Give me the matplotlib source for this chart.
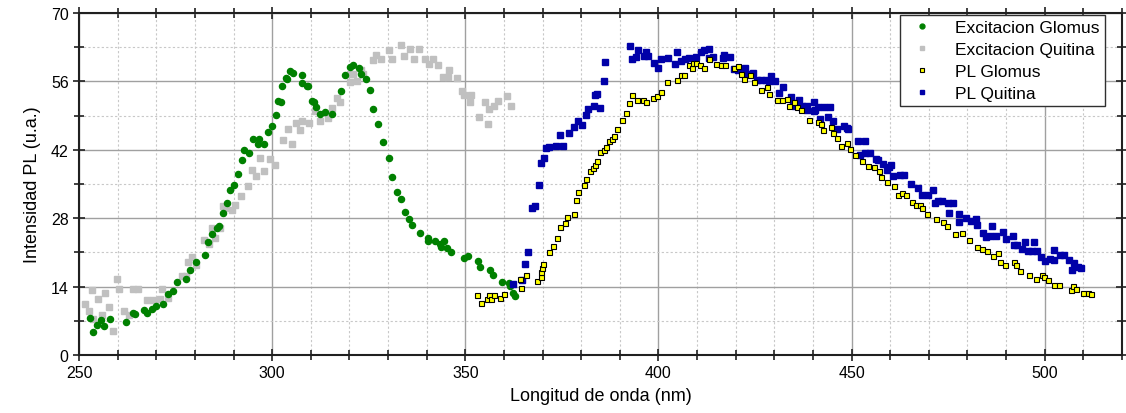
import numpy as np
import matplotlib.pyplot as plt
from matplotlib.ticker import MultipleLocator

plt.rcParams['font.family'] = ['Liberation Sans', 'DejaVu Sans']

# Excitacion Glomus
exc_glomus_x = [252.8, 253.7, 254.7, 255.8, 256.4, 258.0, 262.2, 264.0, 264.6, 266.8,
                267.5, 268.8, 269.8, 271.7, 273.0, 274.3, 275.3, 277.6, 278.6, 280.2,
                282.5, 283.4, 284.5, 285.6, 286.2, 287.2, 288.2, 289.1, 290.1, 291.1,
                292.1, 292.8, 294.1, 295.1, 296.4, 296.6, 297.9, 299.0, 299.9, 301.0,
                301.6, 302.3, 302.6, 303.5, 303.9, 304.5, 305.5, 307.8, 307.8, 309.0,
                309.4, 310.3, 310.7, 311.4, 312.3, 313.6, 315.6, 317.8, 318.9, 320.1,
                320.8, 322.5, 323.0, 324.2, 325.4, 326.0, 327.3, 328.6, 330.3, 331.1,
                332.2, 333.4, 334.4, 335.4, 336.3, 338.3, 340.4, 340.4, 342.2, 343.4,
                343.7, 344.5, 345.3, 346.4, 349.6, 350.7, 353.2, 353.9, 356.5, 357.1,
                359.4, 361.3, 361.7, 362.4, 362.8]
exc_glomus_y = [7.5, 4.8, 6.2, 7.2, 5.9, 7.4, 6.8, 8.6, 8.4, 9.3,
                8.6, 9.4, 10.0, 10.5, 12.5, 13.2, 15.0, 15.6, 17.5, 19.1,
                20.5, 23.2, 24.7, 26.1, 26.5, 29.1, 31.1, 33.8, 34.9, 37.0,
                40.0, 42.0, 41.3, 44.3, 43.2, 44.3, 43.2, 45.6, 46.8, 49.2,
                51.9, 51.7, 55.1, 56.8, 56.6, 58.2, 57.8, 57.4, 55.6, 55.1,
                55.1, 52.0, 51.7, 50.7, 49.4, 49.7, 49.4, 54.0, 57.3, 58.9,
                59.3, 58.7, 57.6, 56.5, 54.3, 50.3, 47.3, 43.6, 40.3, 36.5,
                33.4, 31.9, 29.3, 27.8, 26.6, 24.9, 23.9, 23.3, 23.3, 22.8,
                22.2, 23.3, 22.0, 21.0, 19.9, 20.3, 19.3, 18.1, 17.5, 16.3,
                14.9, 14.7, 14.2, 12.8, 12.1]

# Excitacion Quitina
exc_quitina_x = [251.6, 252.7, 253.3, 253.7, 255.0, 256.0, 256.6, 257.7, 258.9, 259.7,
                 260.3, 261.7, 262.9, 264.0, 265.3, 267.7, 269.2, 270.9, 271.6, 273.0,
                 276.7, 277.6, 278.3, 279.3, 280.3, 282.4, 283.6, 284.3, 285.3, 286.5,
                 287.3, 287.9, 289.7, 290.4, 291.8, 293.7, 294.7, 295.8, 296.8, 297.8,
                 299.5, 300.8, 302.8, 304.1, 305.1, 306.2, 307.2, 307.8, 309.6, 311.1,
                 312.5, 314.5, 315.5, 316.9, 317.5, 320.1, 320.1, 321.0, 321.9, 323.0,
                 323.6, 326.0, 326.9, 328.3, 330.3, 330.9, 333.3, 334.2, 335.6, 336.6,
                 337.9, 339.6, 340.5, 341.6, 342.9, 344.2, 345.4, 345.9, 347.8, 349.1,
                 349.6, 351.3, 351.5, 353.5, 355.2, 355.9, 356.2, 357.5, 358.5, 360.9,
                 361.8]
exc_quitina_y = [10.5, 9.1, 13.4, 7.3, 11.5, 8.1, 12.7, 9.9, 5.0, 15.6,
                 13.5, 9.0, 8.2, 13.5, 13.5, 11.3, 11.3, 11.5, 13.5, 11.6,
                 16.2, 16.2, 19.0, 20.1, 18.5, 23.6, 22.8, 26.0, 23.9, 26.1,
                 30.6, 30.2, 29.7, 30.7, 32.6, 34.7, 37.8, 36.6, 40.4, 37.6,
                 40.1, 39.0, 44.0, 46.3, 43.2, 47.6, 46.1, 48.0, 47.4, 49.9,
                 47.9, 48.5, 50.6, 52.7, 51.7, 57.6, 55.8, 57.5, 56.0, 58.4,
                 57.6, 60.4, 61.5, 60.5, 62.5, 60.5, 63.4, 61.3, 62.6, 60.7,
                 62.6, 60.5, 59.5, 60.5, 59.3, 57.0, 56.9, 58.3, 56.8, 54.0,
                 53.3, 51.8, 53.3, 48.8, 51.7, 47.2, 50.3, 51.0, 51.9, 53.1,
                 51.0]

# PL Glomus
pl_glomus_x = [352.9, 354.1, 355.5, 356.1, 356.7, 357.4, 359.1, 360.0, 364.1, 364.3,
               365.6, 368.5, 369.5, 369.6, 369.8, 370.2, 371.7, 372.8, 373.7, 374.4,
               375.7, 376.4, 378.1, 378.6, 379.3, 380.7, 381.3, 382.3, 383.0, 383.6,
               384.2, 384.8, 385.9, 386.5, 387.2, 387.9, 388.5, 389.2, 390.5, 391.6,
               392.5, 393.1, 394.5, 396.0, 396.7, 398.7, 399.5, 400.6, 402.3, 404.9,
               405.9, 406.6, 407.8, 408.6, 408.9, 409.8, 410.7, 411.8, 413.0, 415.0,
               416.3, 417.2, 419.6, 420.5, 421.5, 422.2, 423.6, 424.8, 426.5, 428.0,
               428.7, 430.6, 432.0, 433.4, 433.7, 435.2, 435.9, 436.9, 439.1, 441.2,
               442.2, 442.7, 444.6, 445.2, 446.2, 447.2, 448.8, 449.5, 450.8, 452.7,
               454.3, 455.7, 457.2, 457.5, 459.2, 461.1, 462.1, 463.1, 464.0, 465.6,
               466.6, 467.8, 468.2, 469.6, 471.9, 473.8, 474.8, 476.7, 478.7, 480.3,
               482.6, 483.7, 485.0, 486.6, 487.8, 488.3, 489.8, 492.0, 492.6, 493.6,
               495.9, 497.8, 499.2, 499.8, 500.8, 502.4, 503.7, 506.7, 507.2, 508.2,
               510.0, 511.1, 511.9]
pl_glomus_y = [12.2, 10.7, 11.5, 12.2, 11.5, 12.2, 11.6, 12.5, 15.5, 13.7,
               16.3, 15.1, 16.0, 17.0, 17.8, 18.6, 21.0, 22.4, 24.0, 26.3,
               27.1, 28.2, 28.8, 31.7, 33.3, 34.8, 36.1, 37.7, 38.3, 38.8,
               39.7, 41.5, 42.0, 42.6, 43.9, 44.3, 44.9, 46.3, 48.2, 49.5,
               51.6, 53.2, 52.3, 52.3, 51.8, 52.7, 53.1, 53.8, 55.8, 56.3,
               57.4, 57.3, 59.4, 58.8, 59.7, 59.7, 59.4, 58.7, 60.6, 59.5,
               59.4, 59.4, 58.7, 59.1, 57.6, 56.6, 57.3, 55.8, 54.2, 54.9,
               53.5, 52.2, 52.2, 52.5, 51.0, 51.8, 50.7, 50.1, 48.1, 47.8,
               47.2, 46.1, 46.6, 45.4, 44.4, 42.7, 43.4, 42.1, 40.9, 39.8,
               38.7, 38.5, 37.6, 36.4, 35.4, 34.7, 32.7, 33.2, 32.7, 31.3,
               30.8, 30.8, 30.0, 28.8, 27.8, 27.2, 26.5, 24.8, 25.0, 23.5,
               22.2, 21.8, 21.3, 20.2, 20.9, 19.0, 18.5, 19.0, 18.5, 17.2,
               16.4, 15.6, 16.4, 15.9, 15.3, 14.3, 14.3, 13.4, 14.2, 13.6,
               12.7, 12.7, 12.5]

# PL Quitina
pl_quitina_x = [362.3, 364.6, 365.4, 366.3, 367.3, 368.0, 369.2, 369.5, 370.4, 370.9,
                371.6, 373.5, 374.5, 375.2, 376.8, 378.2, 379.1, 380.2, 381.2, 381.8,
                383.2, 383.6, 384.0, 384.8, 385.9, 386.1, 392.6, 393.2, 394.2, 394.6,
                396.2, 396.8, 397.4, 398.9, 399.9, 400.6, 402.5, 404.2, 404.9, 405.9,
                406.8, 407.9, 409.6, 411.0, 411.7, 413.1, 413.2, 414.1, 416.6, 417.0,
                418.6, 419.6, 420.5, 422.5, 423.3, 424.5, 425.5, 426.5, 427.8, 428.5,
                429.2, 430.2, 431.1, 432.2, 434.2, 434.8, 435.4, 436.5, 437.2, 438.4,
                438.5, 440.2, 440.2, 440.6, 441.2, 441.7, 442.8, 443.9, 444.4, 445.2,
                446.1, 448.0, 448.7, 449.2, 451.7, 452.2, 453.4, 453.6, 454.8, 456.4,
                456.8, 458.1, 459.2, 459.6, 460.2, 460.7, 462.6, 463.7, 465.5, 467.1,
                468.3, 469.9, 471.0, 471.7, 472.3, 473.5, 475.0, 475.3, 476.3, 477.7,
                477.9, 479.7, 480.9, 482.3, 482.6, 483.9, 484.7, 485.8, 486.4, 487.4,
                489.3, 490.0, 491.7, 492.0, 492.8, 494.0, 494.8, 495.7, 496.6, 497.2,
                498.0, 499.0, 500.0, 501.3, 502.3, 502.3, 503.9, 505.0, 506.2, 507.1,
                507.5, 508.5, 509.3]
pl_quitina_y = [14.5, 15.4, 18.6, 21.1, 30.1, 30.5, 34.8, 39.4, 40.4, 42.4,
                42.6, 42.7, 45.1, 42.8, 45.4, 46.7, 47.9, 47.1, 49.2, 50.3,
                50.9, 53.3, 53.4, 50.6, 56.1, 60.0, 63.2, 60.7, 61.1, 62.5,
                61.2, 62.1, 61.2, 59.7, 58.7, 60.7, 60.9, 59.6, 62.1, 60.1,
                60.7, 60.8, 61.1, 62.1, 62.5, 60.8, 62.6, 61.1, 60.9, 61.5,
                61.1, 58.5, 58.4, 58.7, 57.5, 57.8, 56.2, 56.4, 56.3, 56.0,
                57.2, 56.0, 53.6, 54.9, 52.8, 51.5, 51.0, 52.3, 51.0, 51.0,
                50.1, 51.7, 49.9, 50.1, 50.8, 48.3, 50.8, 48.7, 50.8, 47.9,
                46.2, 46.9, 46.5, 46.3, 43.9, 41.0, 43.9, 41.3, 41.3, 40.2,
                39.9, 39.1, 37.9, 38.4, 38.9, 36.6, 36.8, 36.8, 35.0, 34.1,
                32.7, 32.7, 33.8, 31.1, 31.6, 31.6, 31.2, 29.1, 31.2, 28.9,
                27.3, 28.0, 27.4, 27.8, 26.7, 25.0, 24.1, 24.3, 26.5, 24.3,
                25.1, 23.7, 24.4, 22.5, 22.6, 21.7, 23.1, 21.3, 21.3, 23.2,
                21.3, 20.1, 19.2, 19.6, 19.4, 21.5, 20.5, 20.5, 19.5, 17.5,
                18.8, 18.0, 17.8]

fig = plt.figure(figsize=(11.26, 4.14), dpi=100)
ax = fig.add_axes([0.0702, 0.14, 0.9262, 0.826])

ax.plot(exc_glomus_x, exc_glomus_y, 'o', color='#008000', ms=4.4, mec='#008000',
        label='Excitacion Glomus', zorder=4)
ax.plot(exc_quitina_x, exc_quitina_y, 's', color='#c0c0c0', ms=3.8, mec='#c0c0c0',
        label='Excitacion Quitina', zorder=3)
ax.plot(pl_glomus_x, pl_glomus_y, 's', color='#ffff00', ms=3.6, mec='black', mew=0.8,
        label='PL Glomus', zorder=5)
ax.plot(pl_quitina_x, pl_quitina_y, 's', color='#0000a8', ms=3.9, mec='#0000a8',
        label='PL Quitina', zorder=4)

ax.set_xlim(250, 520)
ax.set_ylim(0, 70)
ax.xaxis.set_major_locator(MultipleLocator(50))
ax.xaxis.set_minor_locator(MultipleLocator(10))
ax.yaxis.set_major_locator(MultipleLocator(14))
ax.yaxis.set_minor_locator(MultipleLocator(7))

ax.grid(which='major', color='#a0a0a0', lw=1.0, ls='-')
ax.grid(which='minor', color='#c8c8c8', lw=0.8, ls=(0, (2, 2)))
ax.set_axisbelow(True)

for s in ax.spines.values():
    s.set_linewidth(1.5)
    s.set_color('#202020')
ax.tick_params(which='both', direction='inout', top=True, right=True,
               labelsize=11.5, width=1.2, color='#202020')
ax.tick_params(which='major', length=8)
ax.tick_params(which='minor', length=7)

ax.set_xlabel('Longitud de onda (nm)', fontsize=13, labelpad=5)
ax.set_ylabel('Intensidad PL (u.a.)', fontsize=13, labelpad=7)

leg = ax.legend(loc='upper right', fontsize=12.5, frameon=True, fancybox=False,
                framealpha=1, edgecolor='#303030', borderpad=0.3,
                labelspacing=0.38, handletextpad=0.9, handlelength=2.0,
                markerscale=0.8, borderaxespad=0,
                bbox_to_anchor=(0.9837, 0.994))
leg.get_frame().set_linewidth(1.0)

fig.savefig('out.png', dpi=100)
